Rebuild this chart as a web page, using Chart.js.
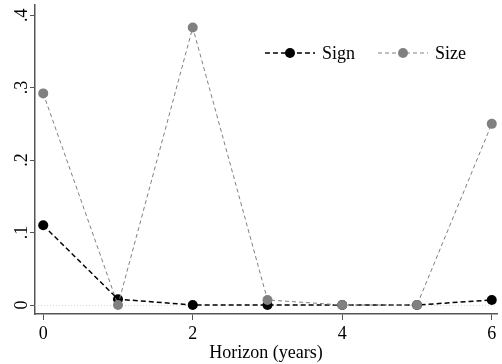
<!DOCTYPE html>
<html>
<head>
<meta charset="utf-8">
<script src="https://cdn.jsdelivr.net/npm/chart.js@4.4.1/dist/chart.umd.min.js"></script>
<style>
  html, body { margin: 0; padding: 0; background: #fff; }
  #wrap { width: 502px; height: 364px; }
  .precarga { font-family: "Liberation Serif", "Times New Roman", serif; position: absolute; left: -999px; }
</style>
</head>
<body>
<span class="precarga">Horizon Sign Size 0123456</span>
<div id="wrap"><canvas id="grafica" width="502" height="364"></canvas></div>
<script>
// datos
const horizontes = [0, 1, 2, 3, 4, 5, 6];
const valoresSign = [0.110, 0.008, 0.000, 0.000, 0.000, 0.000, 0.007];
const valoresSize = [0.292, 0.000, 0.383, 0.007, 0.000, 0.000, 0.250];
const ticksY = [0, 0.1, 0.2, 0.3, 0.4];
const etiquetasY = ["0", ".1", ".2", ".3", ".4"];
const ticksX = [0, 2, 4, 6];

const fuente = "'Liberation Serif', 'Times New Roman', serif";
const colorSign = "#000000";
const colorSize = "#808080";
const colorEje = "#555555";

// etiquetas Y giradas, linea del cero y leyenda (estilo Stata)
const extras = {
  id: "extras",
  beforeDatasetsDraw(chart) {
    const { ctx, chartArea, scales } = chart;
    const y0 = scales.y.getPixelForValue(0);
    ctx.save();
    ctx.strokeStyle = "#d9d9d9";
    ctx.lineWidth = 1;
    ctx.setLineDash([1, 2]);
    ctx.beginPath();
    ctx.moveTo(chartArea.left, y0 + 0.5);
    ctx.lineTo(chartArea.right, y0 + 0.5);
    ctx.stroke();
    ctx.restore();
  },
  afterDraw(chart) {
    const { ctx, scales } = chart;
    ctx.save();
    ctx.fillStyle = "#000";
    ctx.font = "18px " + fuente;
    ctx.textAlign = "center";
    ctx.textBaseline = "middle";
    ticksY.forEach((v, i) => {
      const py = scales.y.getPixelForValue(v);
      ctx.save();
      ctx.translate(22, py);
      ctx.rotate(-Math.PI / 2);
      ctx.fillText(etiquetasY[i], 0, 0);
      ctx.restore();
    });

    // leyenda
    const items = [
      { texto: "Sign", color: colorSign, ancho: 1.5, dash: [5, 3], x: 265 },
      { texto: "Size", color: colorSize, ancho: 1, dash: [4, 3], x: 378 }
    ];
    const yl = 53;
    items.forEach(it => {
      ctx.strokeStyle = it.color;
      ctx.lineWidth = it.ancho;
      ctx.setLineDash(it.dash);
      ctx.beginPath();
      ctx.moveTo(it.x, yl);
      ctx.lineTo(it.x + 50, yl);
      ctx.stroke();
      ctx.setLineDash([]);
      ctx.fillStyle = it.color;
      ctx.beginPath();
      ctx.arc(it.x + 25, yl, 5, 0, Math.PI * 2);
      ctx.fill();
      ctx.fillStyle = "#000";
      ctx.textAlign = "left";
      ctx.fillText(it.texto, it.x + 57, yl + 1);
    });
    ctx.restore();
  }
};

function dibujar() {
  new Chart(document.getElementById("grafica"), {
    type: "line",
    data: {
      datasets: [
        {
          label: "Sign",
          data: horizontes.map((h, i) => ({ x: h, y: valoresSign[i] })),
          borderColor: colorSign,
          backgroundColor: colorSign,
          borderWidth: 1.5,
          borderDash: [5, 3],
          pointRadius: 5,
          pointBorderWidth: 0,
          pointBackgroundColor: colorSign,
          tension: 0,
          order: 1,
          clip: false
        },
        {
          label: "Size",
          data: horizontes.map((h, i) => ({ x: h, y: valoresSize[i] })),
          borderColor: colorSize,
          backgroundColor: colorSize,
          borderWidth: 1,
          borderDash: [4, 3],
          pointRadius: 5,
          pointBorderWidth: 0,
          pointBackgroundColor: colorSize,
          tension: 0,
          order: 0,
          clip: false
        }
      ]
    },
    options: {
      responsive: false,
      animation: false,
      layout: { padding: { top: 5, right: 0, left: 0, bottom: 0 } },
      plugins: {
        legend: { display: false },
        tooltip: { enabled: false }
      },
      scales: {
        x: {
          type: "linear",
          min: -0.11,
          max: 6.07,
          afterBuildTicks: axis => { axis.ticks = ticksX.map(v => ({ value: v })); },
          afterFit: axis => { axis.height = 50; },
          grid: { drawOnChartArea: false, drawTicks: true, tickLength: 6, tickColor: colorEje },
          border: { display: true, color: colorEje, width: 1.5 },
          ticks: {
            color: "#000",
            padding: 3,
            maxRotation: 0,
            font: { family: fuente, size: 18 },
            callback: v => String(v)
          },
          title: {
            display: true,
            text: "Horizon (years)",
            color: "#000",
            font: { family: fuente, size: 18 },
            padding: { top: 0, bottom: 0 }
          }
        },
        y: {
          type: "linear",
          min: -0.0124,
          max: 0.414,
          afterBuildTicks: axis => { axis.ticks = ticksY.map(v => ({ value: v })); },
          afterFit: axis => { axis.width = 35; },
          grid: { drawOnChartArea: false, drawTicks: true, tickLength: 5, tickColor: colorEje },
          border: { display: true, color: colorEje, width: 1.5 },
          ticks: { display: false }
        }
      }
    },
    plugins: [extras]
  });
}

document.fonts.load("18px 'Liberation Serif'").then(dibujar, dibujar);
</script>
</body>
</html>
